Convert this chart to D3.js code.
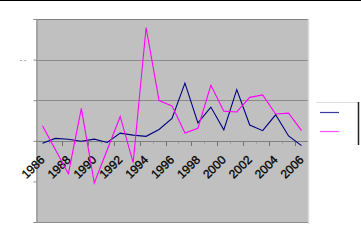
<!DOCTYPE html>
<html><head><meta charset="utf-8">
<script src="https://cdn.jsdelivr.net/npm/d3@7"></script>
<style>
html,body{margin:0;padding:0;background:#fff;}
svg{display:block;}
</style></head>
<body>
<svg id="c" width="361" height="241"></svg>
<script>
const years = [1986,1987,1988,1989,1990,1991,1992,1993,1994,1995,1996,1997,1998,1999,2000,2001,2002,2003,2004,2005,2006];
const yearLabels = years.map(y => (y % 2 === 0 ? String(y) : ""));
const seriesBlue = [-0.06,0.06,0.04,-0.01,0.04,-0.04,0.19,0.14,0.11,0.28,0.55,1.42,0.44,0.83,0.27,1.26,0.39,0.25,0.64,0.12,-0.12];
const seriesMagenta = [0.37,-0.22,-0.81,0.80,-1.04,-0.22,0.60,-0.54,2.79,0.99,0.86,0.19,0.31,1.37,0.73,0.71,1.07,1.13,0.66,0.68,0.25];
const yTicks = [-2,-1,0,1,2,3];
const gridValues = [1,2];

const svg = d3.select("#c");
const W = 361, H = 241;
const plot = {left:36, right:308, top:19, bottom:222};

const x = d3.scaleBand().domain(years).range([plot.left, plot.right]).padding(0);
const y = d3.scaleLinear().domain([-2,3]).range([plot.bottom, plot.top]);

// top black line
svg.append("line").attr("x1",0).attr("x2",W).attr("y1",0.5).attr("y2",0.5)
  .attr("stroke","#000").attr("stroke-width",1);

// plot area
svg.append("rect").attr("x",plot.left).attr("y",plot.top)
  .attr("width",plot.right-plot.left).attr("height",plot.bottom-plot.top)
  .attr("fill","#c0c0c0");

// gridlines
svg.append("g").selectAll("line").data(gridValues).join("line")
  .attr("x1",plot.left).attr("x2",plot.right)
  .attr("y1",d=>Math.round(y(d))+0.5).attr("y2",d=>Math.round(y(d))+0.5)
  .attr("stroke","#8a8a8a").attr("stroke-width",1);

// borders
svg.append("line").attr("x1",plot.left).attr("x2",plot.right).attr("y1",plot.top+0.5).attr("y2",plot.top+0.5)
  .attr("stroke","#808080").attr("stroke-width",1.2);
svg.append("line").attr("x1",plot.left).attr("x2",plot.right+1).attr("y1",plot.bottom+0.5).attr("y2",plot.bottom+0.5)
  .attr("stroke","#8c8c8c").attr("stroke-width",1);
svg.append("line").attr("x1",plot.right+0.5).attr("x2",plot.right+0.5).attr("y1",plot.top).attr("y2",plot.bottom+2)
  .attr("stroke","#dadada").attr("stroke-width",1.5);

// y axis
const yAxis = d3.axisLeft(y).tickValues(yTicks).tickSize(3).tickFormat("");
const gy = svg.append("g").attr("transform",`translate(${plot.left+0.5},0)`).call(yAxis);
gy.select(".domain").attr("stroke","#8c8c8c");
gy.selectAll(".tick line").attr("stroke","#8c8c8c");
svg.append("text").attr("x",23).attr("y",y(2)+2).attr("text-anchor","middle")
  .attr("font-family","Liberation Sans, Arial, sans-serif").attr("font-size",7).attr("fill","#666").text("- -");

// x axis at zero
const xAxis = d3.axisBottom(x).tickSize(0).tickFormat((d,i)=>yearLabels[i]);
const gx = svg.append("g").attr("transform",`translate(0,${Math.round(y(0))+0.5})`).call(xAxis);
gx.select(".domain").attr("stroke","#808080").attr("d",`M${plot.left},0H${plot.right}`);
gx.selectAll(".tick text")
  .attr("font-family","Liberation Sans, Arial, sans-serif")
  .attr("font-size",12).attr("fill","#000")
  .attr("stroke","#000").attr("stroke-width",0.3)
  .attr("text-anchor","end")
  .attr("transform","translate(0,16) rotate(-45)")
  .attr("dy","0.35em").attr("y",0).attr("x",0);
// category boundary tick marks
const bounds = d3.range(1, years.length);
svg.append("g").selectAll("line").data(bounds).join("line")
  .attr("x1",k=>Math.round(plot.left + k*x.bandwidth())+0.5)
  .attr("x2",k=>Math.round(plot.left + k*x.bandwidth())+0.5)
  .attr("y1",Math.round(y(0))+1).attr("y2",k=>Math.round(y(0)) + (k%2===0?5:3))
  .attr("stroke",k=>k%2===0?"#707070":"#a0a0a0").attr("stroke-width",1);

// lines
const line = d3.line().x((d,i)=>x(years[i])+x.bandwidth()/2).y(d=>y(d));
svg.append("path").datum(seriesBlue).attr("d",line).attr("fill","none")
  .attr("stroke","#000080").attr("stroke-width",1.1);
svg.append("path").datum(seriesMagenta).attr("d",line).attr("fill","none")
  .attr("stroke","#ff00ff").attr("stroke-width",1.1);

// legend
const lg = svg.append("g");
lg.append("rect").attr("x",316).attr("y",102).attr("width",43).attr("height",43).attr("fill","#fff");
lg.append("line").attr("x1",316).attr("x2",358).attr("y1",102.5).attr("y2",102.5).attr("stroke","#dcdcdc");
lg.append("line").attr("x1",358.5).attr("x2",358.5).attr("y1",102).attr("y2",145).attr("stroke","#222").attr("stroke-width",1.5);
lg.append("line").attr("x1",320).attr("x2",339).attr("y1",112.5).attr("y2",112.5).attr("stroke","#3a3aa0").attr("stroke-width",1.2);
lg.append("line").attr("x1",320).attr("x2",339).attr("y1",131.5).attr("y2",131.5).attr("stroke","#ff55ff").attr("stroke-width",1.2);
</script>
</body></html>
